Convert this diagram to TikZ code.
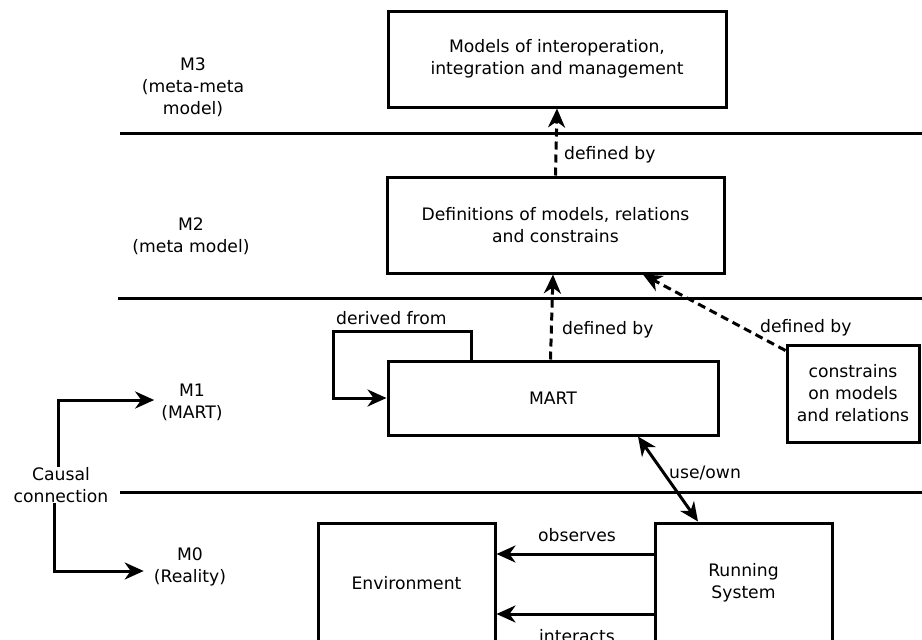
\documentclass[tikz,border=0pt]{standalone}
\usepackage{fontspec}
\setmainfont{DejaVu Sans}
\usetikzlibrary{arrows.meta}
\begin{document}
\begin{tikzpicture}[x=1pt,y=-1pt,
  every node/.style={font=\fontsize{17.2}{22}\selectfont, align=center, inner sep=0pt},
  box/.style={draw, line width=3pt, minimum width=#1},
  lvl/.style={line width=3pt},
  arr/.style={line width=3pt, -{Stealth[length=19pt,width=17pt,inset=6pt]}},
  biarr/.style={line width=3pt, {Stealth[length=19pt,width=17pt,inset=6pt]}-{Stealth[length=19pt,width=17pt,inset=6pt]}},
  dasharr/.style={arr, dash pattern=on 8pt off 5pt},
  lbl/.style={}
]
\useasboundingbox (0,0) rectangle (922,640);
\clip (0,0) rectangle (922,640);

% level separators
\coordinate (s1a) at (120,133); \coordinate (s1b) at (924,133);
\coordinate (s2a) at (118,298); \coordinate (s2b) at (924,298);
\coordinate (s3a) at (120,492); \coordinate (s3b) at (924,492);
\draw[lvl] (s1a) -- (s1b);
\draw[lvl] (s2a) -- (s2b);
\draw[lvl] (s3a) -- (s3b);

% level names
\node (m3) at (193,87) {M3\\(meta-meta\\model)};
\node (m2) at (191,236) {M2\\(meta model)};
\node (m1) at (192,402) {M1\\(MART)};
\node (m0) at (190,567) {M0\\(Reality)};
\node (causal) at (61,485) {Causal\\connection};

% boxes
\node[box=338pt, minimum height=96pt] (mm) at (557,59) {Models of interoperation,\\integration and management};
\node[box=337pt, minimum height=96pt] (defs) at (555.5,225) {Definitions of models, relations\\and constrains};
\node[box=330pt, minimum height=74pt] (mart) at (553,398) {MART};
\node[box=132pt, minimum height=97pt] (cons) at (853,393.5) {constrains\\on models\\and relations};
\node[box=177pt, minimum height=120pt] (env) at (406.5,583) {Environment};
\node[box=177pt, minimum height=120pt] (rs) at (743.5,583) {Running\\System};

% causal connection
\draw[arr] ([xshift=-3pt]causal.north) |- ([xshift=-7pt,yshift=2pt]m1.west);
\draw[arr] ([xshift=-7pt]causal.south) |- ([xshift=-10pt,yshift=-4pt]m0.west);

% defined-by relations
\draw[dasharr] (defs.north) -- (mm.south);
\node[lbl, anchor=west] (d1) at (564,155) {defined by};
\draw[dasharr] ([xshift=-2.5pt]mart.north) -- ([xshift=-2.5pt]defs.south);
\node[lbl, anchor=west] (d2) at (562,330) {defined by};
\draw[dasharr] ([yshift=-7pt]cons.north west) -- ([xshift=87.5pt]defs.south);
\node[lbl, anchor=west] (d3) at (760,328) {defined by};

% derived from (self loop)
\draw[arr] ([xshift=-82pt]mart.north) -- ++(0,-28) -- ++(-138,0) |- (mart.west);
\node[lbl, anchor=west] (df) at (336,318) {derived from};

% use/own
\draw[biarr] ([xshift=85pt]mart.south) -- ([xshift=-45.5pt]rs.north);
\node[lbl, anchor=west] (uo) at (669,473) {use/own};

% running system and environment
\draw[arr] ([yshift=29pt]rs.west) -- ([yshift=29pt]env.east);
\node[lbl] (ob) at (577,535) {observes};
\draw[arr] ([yshift=-31pt]rs.west) -- ([yshift=-31pt]env.east);
\node[lbl] (ia) at (577,636) {interacts};
\end{tikzpicture}
\end{document}
